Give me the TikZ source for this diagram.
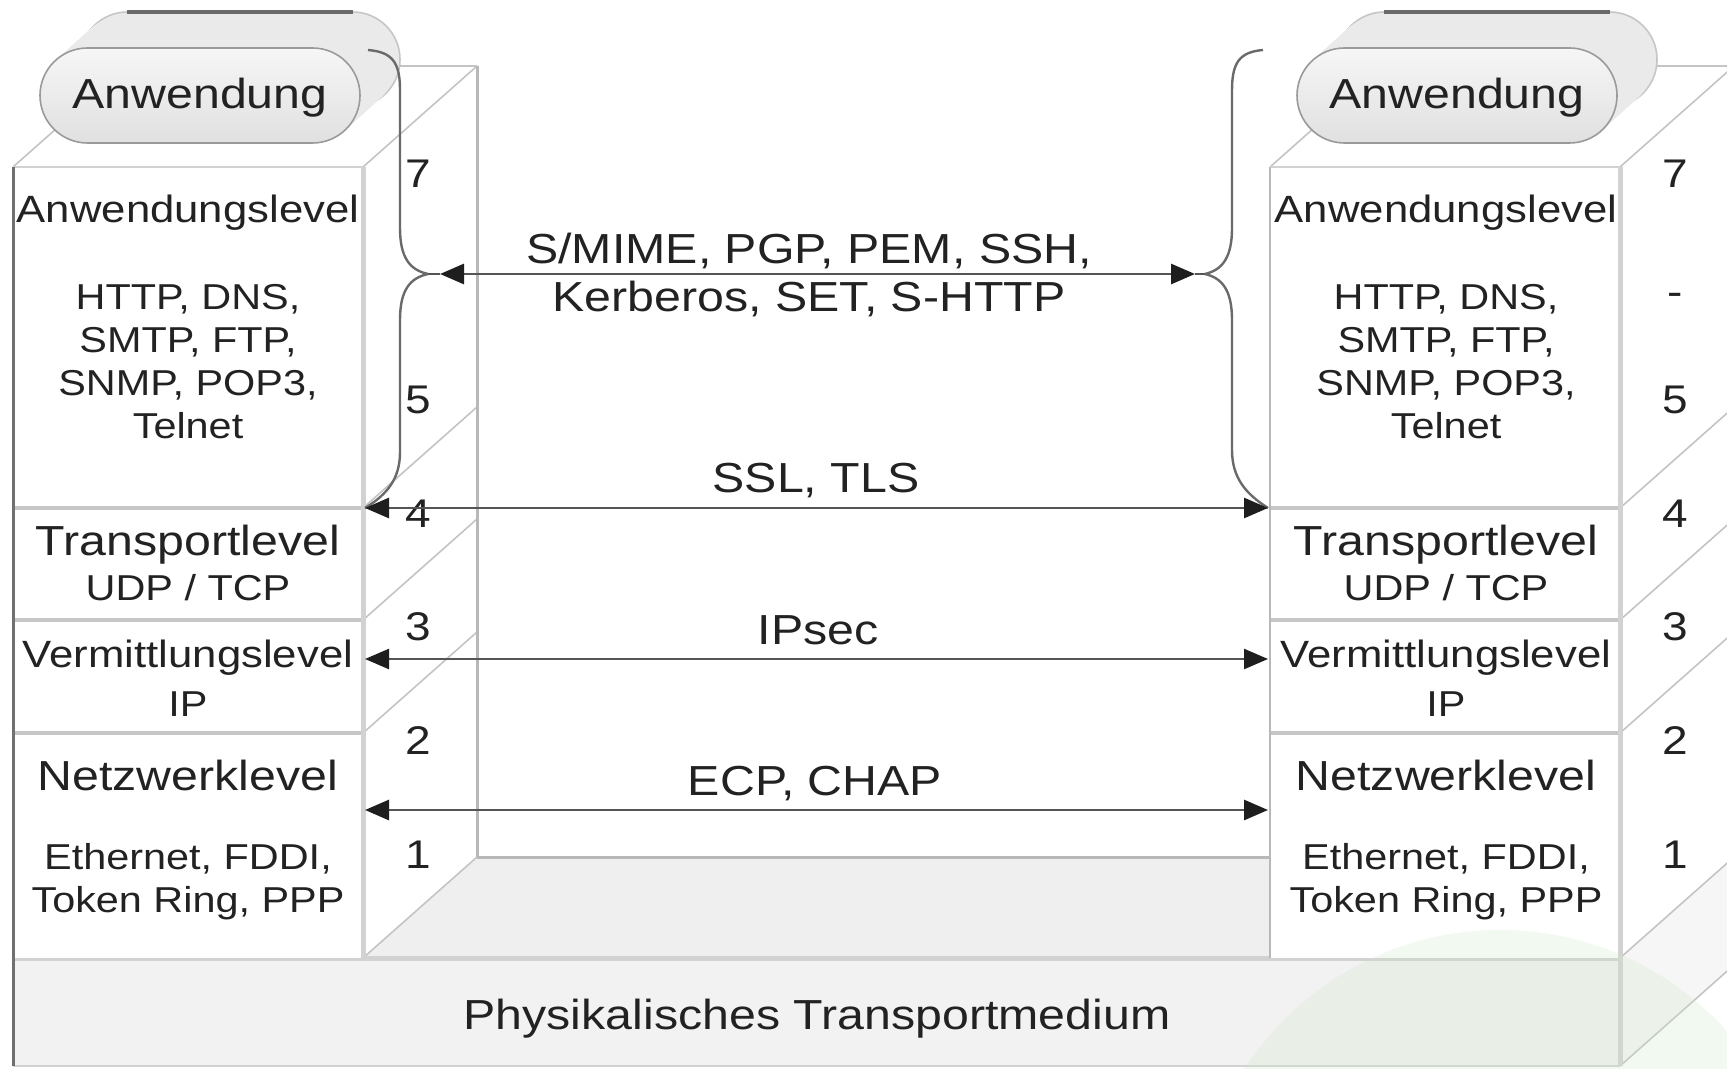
\documentclass[tikz,border=0pt]{standalone}
\usepackage{fontspec}
\setmainfont{Liberation Sans}[FakeStretch=1.15]
\usetikzlibrary{arrows.meta,shapes.misc}
\definecolor{txtc}{HTML}{222222}
\definecolor{edged}{HTML}{707070}
\definecolor{edgel}{HTML}{D2D2D2}
\definecolor{edgem}{HTML}{B8B8B8}
\definecolor{sepc}{HTML}{C6C6C6}
\definecolor{diagc}{HTML}{C4C4C4}
\definecolor{floorc}{HTML}{EFEFEF}
\definecolor{slabc}{HTML}{F2F2F2}
\definecolor{sidec}{HTML}{F6F6F6}
\definecolor{pillb}{HTML}{EAEAEA}
\definecolor{pilld}{HTML}{9A9A9A}
\definecolor{pilltop}{HTML}{6A6A6A}
\definecolor{arrc}{HTML}{555555}
\definecolor{headc}{HTML}{1E1E1E}
\definecolor{bracec}{HTML}{6A6A6A}
\definecolor{greenc}{HTML}{CFE8C6}
\begin{document}
\begin{tikzpicture}[x=0.5pt,y=-0.5pt,
  txt/.style={inner sep=0pt, text height=0.716em, text depth=0pt, text=txtc, align=center, yshift=-3.5pt},
  big/.style={txt, font=\fontsize{21}{25}\selectfont},
  mid/.style={txt, font=\fontsize{19}{23}\selectfont},
  small/.style={txt, font=\fontsize{18}{21.5}\selectfont},
  numtxt/.style={txt, font=\fontsize{20}{24}\selectfont},
  twoline/.style={txt, font=\fontsize{21}{24}\selectfont},
  pill/.style={rounded rectangle, minimum width=160pt, minimum height=47.5pt, inner sep=0pt,
    draw=pilld, line width=0.8pt, top color=gray!7, bottom color=gray!24, text=txtc,
    text height={0.716em+5.5pt}, text depth=0pt, font=\fontsize{21}{25}\selectfont},
  backpill/.style={rounded corners=23.7pt},
  arrowline/.style={draw=arrc, line width=1.4pt},
  bracel/.style={draw=bracec, line width=1.2pt},
  thin/.style={draw=diagc, line width=0.8pt},
  >={Triangle[length=12pt,width=10pt,color=headc]}
]
\useasboundingbox (0,0) rectangle (1727,1069);
\clip (0,0) rectangle (1727,1069);
\fill[white] (0,0) rectangle (1727,1069);

% ---- physical slab and floor
\fill[floorc] (13,958) -- (127,857) -- (1734,857) -- (1620,958) -- cycle;
\fill[slabc] (13,958) rectangle (1620,1066);
\fill[sidec] (1620,958) -- (1734,857) -- (1734,965) -- (1620,1066) -- cycle;
\draw[thin] (1620,1066) -- (1734,965);
\draw[edgel, line width=2.5pt] (13,958) -- (1620,958);
\draw[edgel, line width=1pt] (13,1066) -- (1620,1066);
\draw[edgem, line width=1.5pt] (477,857) -- (1270,857);

% ---- stacks
\foreach \sx in {0,1257}{
\begin{scope}[shift={(\sx,0)}]
\fill[white] (363,167) -- (477,66) -- (477,857) -- (363,958) -- cycle;
\fill[white] (13,167) -- (127,66) -- (477,66) -- (363,167) -- cycle;
\draw[thin] (13,167) -- (127,66) -- (477,66);
\foreach \yy in {167,508,620,733,958} \draw[thin] (363,\yy) -- ++(114,-101);
\draw[edgem, line width=1.5pt] (477,66) -- (477,857);
\fill[white] (13,167) rectangle (363,958);
\foreach \yy in {508,620,733} \draw[sepc, line width=2pt] (13,\yy) -- (363,\yy);
\draw[edgel, line width=1.2pt] (13,167) -- (363,167);
\draw[edgel, line width=2.5pt] (363,167) -- (363,958);
% application pill (extruded)
\draw[draw=gray!45, line width=0.8pt, fill=pillb, backpill] (80,12) rectangle (400,107);
\foreach \t in {0.1,0.2,...,0.95}
  \fill[pillb, backpill] ({80-40*\t},{12+36*\t}) rectangle ++(320,95);
\draw[pilltop, line width=1.6pt] (127,12) -- (353,12);
\end{scope}
}
\draw[edgel, line width=2.5pt] (1620,958) -- (1620,1066);
\draw[edged, line width=1.5pt] (13,167) -- (13,1066);
\draw[edgem, line width=1pt] (1270,167) -- (1270,958);

\node[pill] (appL) at (200,95.5) {Anwendung};
\node[pill] (appR) at (1457,95.5) {Anwendung};

% ---- left stack texts (multi-line nodes are placed at their last line)
\node[mid]   (alL)  at (188,208) {Anwendungslevel};
\node[small] (apL)  at (188,424) {HTTP, DNS,\\SMTP, FTP,\\SNMP, POP3,\\Telnet};
\node[big]   (tlL)  at (188,541) {Transportlevel};
\node[small] (tpL)  at (188,586) {UDP / TCP};
\node[mid]   (vlL)  at (188,653) {Vermittlungslevel};
\node[small] (vpL)  at (188,702) {IP};
\node[big]   (nlL)  at (188,776) {Netzwerklevel};
\node[small] (npL)  at (188,898) {Ethernet, FDDI,\\Token Ring, PPP};

% ---- right stack texts
\node[mid]   (alR)  at (1446,208) {Anwendungslevel};
\node[small] (apR)  at (1446,424) {HTTP, DNS,\\SMTP, FTP,\\SNMP, POP3,\\Telnet};
\node[big]   (tlR)  at (1446,541) {Transportlevel};
\node[small] (tpR)  at (1446,586) {UDP / TCP};
\node[mid]   (vlR)  at (1446,653) {Vermittlungslevel};
\node[small] (vpR)  at (1446,702) {IP};
\node[big]   (nlR)  at (1446,776) {Netzwerklevel};
\node[small] (npR)  at (1446,898) {Ethernet, FDDI,\\Token Ring, PPP};

\node[big] (phys) at (817,1015) {Physikalisches Transportmedium};

% ---- layer numbers
\node[numtxt] (nL7) at (418,173) {7};
\node[numtxt] (nL5) at (418,399) {5};
\node[numtxt] (nL4) at (418,513) {4};
\node[numtxt] (nL3) at (418,626) {3};
\node[numtxt] (nL2) at (418,740) {2};
\node[numtxt] (nL1) at (418,854) {1};
\node[numtxt] (nR7) at (1675,173) {7};
\node[numtxt] (nRd) at (1675,291) {-};
\node[numtxt] (nR5) at (1675,399) {5};
\node[numtxt] (nR4) at (1675,513) {4};
\node[numtxt] (nR3) at (1675,626) {3};
\node[numtxt] (nR2) at (1675,740) {2};
\node[numtxt] (nR1) at (1675,854) {1};

% ---- connector end points
\coordinate (a1L) at (440,274);  \coordinate (a1R) at (1195,274);
\coordinate (a2L) at (365,508);  \coordinate (a2R) at (1268,508);
\coordinate (a3L) at (365,659);  \coordinate (a3R) at (1268,659);
\coordinate (a4L) at (365,810);  \coordinate (a4R) at (1268,810);
\coordinate (bLtop) at (368,50); \coordinate (bLtip) at (428,274);
\coordinate (bRtop) at (1263,50); \coordinate (bRtip) at (1205,274);

% ---- braces
\draw[bracel] (bLtop) .. controls (392,52) and (400,62) .. (400,90) -- (400,228)
  .. controls (400,258) and (410,270) .. (bLtip)
  .. controls (410,278) and (400,290) .. (400,320) -- (400,452)
  .. controls (400,478) and (388,494) .. (a2L);
\draw[bracel] (bRtop) .. controls (1240,52) and (1232,62) .. (1232,90) -- (1232,228)
  .. controls (1232,258) and (1222,270) .. (bRtip)
  .. controls (1222,278) and (1232,290) .. (1232,320) -- (1232,450)
  .. controls (1232,478) and (1246,494) .. (a2R);
\draw[arrowline] (bLtip) -- (a1L);
\draw[arrowline] (bRtip) -- (a1R);

% ---- arrows
\draw[arrowline, <->] (a1L) -- (a1R);
\draw[arrowline, <->] (a2L) -- (a2R);
\draw[arrowline, line width=1.2pt, <->] (a3L) -- (a3R);
\draw[arrowline, <->] (a4L) -- (a4R);

% ---- arrow labels
\node[twoline] (l1) at (809,297) {S/MIME, PGP, PEM, SSH,\\Kerberos, SET, S-HTTP};
\node[big] (l2) at (816,478) {SSL, TLS};
\node[big] (l3) at (818,630) {IPsec};
\node[big] (l4) at (815,781) {ECP, CHAP};

% ---- faint background circle
\fill[greenc, opacity=0.25] (1500,1235) circle[radius=305];
\end{tikzpicture}
\end{document}
